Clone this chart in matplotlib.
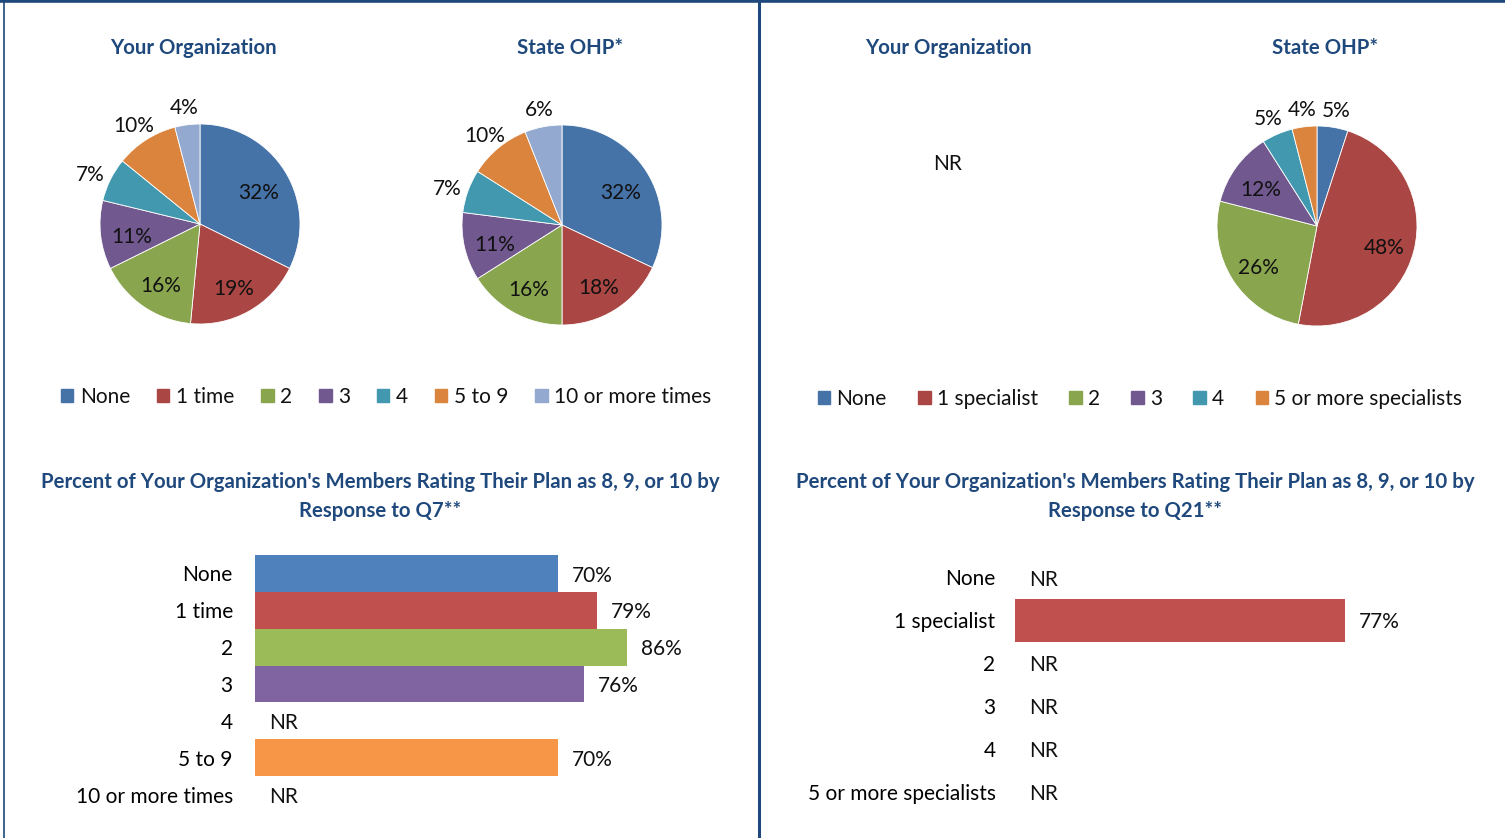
import numpy as np
import matplotlib.pyplot as plt
from matplotlib.patches import Patch
from matplotlib.lines import Line2D

W, H = 1505, 838
plt.rcParams['font.family'] = ['Lato', 'DejaVu Sans']
plt.rcParams['text.color'] = '#111111'

# --- data ---
visit_cats = ["None", "1 time", "2", "3", "4", "5 to 9", "10 or more times"]
visit_org = [32, 19, 16, 11, 7, 10, 4]
visit_state = [32, 18, 16, 11, 7, 10, 6]
visit_rating = [70, 79, 86, 76, None, 70, None]

spec_cats = ["None", "1 specialist", "2", "3", "4", "5 or more specialists"]
spec_state = [5, 48, 26, 12, 5, 4]
spec_rating = [None, 77, None, None, None, None]

pie_colors = ["#4572A7", "#AA4643", "#89A54E", "#71588F", "#4198AF", "#DB843D", "#93A9CF"]
bar_colors = ["#4F81BD", "#C0504D", "#9BBB59", "#8064A2", "#4BACC6", "#F79646", "#95B3D7"]
TITLE_C = "#1F497D"
FS = 15
TFS = 14.7


def rect(x0, y0, x1, y1):
    return [x0 / W, 1 - y1 / H, (x1 - x0) / W, (y1 - y0) / H]


fig = plt.figure(figsize=(W / 100, H / 100), dpi=100)


def draw_pie(cx, cy, values, r=100):
    ax = fig.add_axes(rect(cx - 1.6 * r, cy - 1.6 * r, cx + 1.6 * r, cy + 1.6 * r))
    ax.pie(values, colors=pie_colors[:len(values)], startangle=90, counterclock=False,
           radius=1, wedgeprops=dict(edgecolor="white", linewidth=0.6))
    ax.set_xlim(-1.6, 1.6)
    ax.set_ylim(-1.6, 1.6)
    ax.set_aspect("equal")
    ax.axis("off")
    total = sum(values)
    start = 0.0
    for v in values:
        mid = (start + v / 2) / total * 2 * np.pi
        start += v
        d = 0.69 if v >= 11 else 1.22
        # labels sit a little below their radial point, as in the original
        ax.text(d * np.sin(mid), d * np.cos(mid) - 0.05, f"{v}%", ha="center", va="center",
                fontsize=FS)


def draw_bars(x0, y0, y1, scale, cats, values, pad):
    ax = fig.add_axes(rect(x0, y0, x0 + scale, y1))
    ypos = np.arange(len(cats))
    for i, v in enumerate(values):
        if v is None:
            ax.annotate("NR", (0, i), xytext=(10, -1.5), textcoords="offset points",
                        ha="left", va="center", fontsize=FS)
        else:
            ax.barh(i, v, height=1.0, color=bar_colors[i])
            ax.annotate(f"{v}%", (v, i), xytext=(10, -1.5), textcoords="offset points",
                        ha="left", va="center", fontsize=FS)
    ax.set_xlim(0, 100)
    ax.set_ylim(len(cats) - 0.5, -0.5)
    ax.set_yticks(ypos)
    ax.set_yticklabels(cats, fontsize=FS)
    ax.tick_params(axis="y", length=0, pad=pad)
    ax.set_xticks([])
    for s in ax.spines.values():
        s.set_visible(False)
    ax.patch.set_alpha(0)


def title(x, y, s):
    fig.text(x / W, 1 - y / H, s, ha="center", va="center",
             fontsize=TFS, fontweight="bold", color=TITLE_C)


# top left panel
title(193, 48, "Your Organization")
title(570, 48, "State OHP*")
draw_pie(200, 224, visit_org)
draw_pie(562, 225, visit_state)

# top right panel
title(948, 48, "Your Organization")
title(1325, 48, "State OHP*")
fig.text(948 / W, 1 - 164 / H, "NR", ha="center", va="center", fontsize=FS)
draw_pie(1317, 226, spec_state)

# legends
h1 = [Patch(color=pie_colors[i], label=c) for i, c in enumerate(visit_cats)]
fig.legend(handles=h1, loc="center", bbox_to_anchor=(386 / W, 1 - 397 / H), ncol=7,
           frameon=False, fontsize=FS, handlelength=0.6, handleheight=0.6,
           handletextpad=0.3, columnspacing=1.3)
h2 = [Patch(color=pie_colors[i], label=c) for i, c in enumerate(spec_cats)]
fig.legend(handles=h2, loc="center", bbox_to_anchor=(1140 / W, 1 - 399 / H), ncol=6,
           frameon=False, fontsize=FS, handlelength=0.6, handleheight=0.6,
           handletextpad=0.3, columnspacing=1.5)

# bar titles
title(380, 482, "Percent of Your Organization's Members Rating Their Plan as 8, 9, or 10 by")
title(380, 511, "Response to Q7**")
title(1135, 482, "Percent of Your Organization's Members Rating Their Plan as 8, 9, or 10 by")
title(1135, 511, "Response to Q21**")

draw_bars(255, 555, 813, 433, visit_cats, visit_rating, pad=16)
draw_bars(1015, 556, 813, 429, spec_cats, spec_rating, pad=14)

# frame lines
fig.add_artist(Line2D([0, 1], [1 - 1.5 / H, 1 - 1.5 / H], color=TITLE_C, linewidth=2.6))
fig.add_artist(Line2D([4 / W, 4 / W], [0, 1], color=TITLE_C, linewidth=1.2))
fig.add_artist(Line2D([759 / W, 759 / W], [0, 1], color=TITLE_C, linewidth=2.2))

fig.savefig("out.png", dpi=100)
